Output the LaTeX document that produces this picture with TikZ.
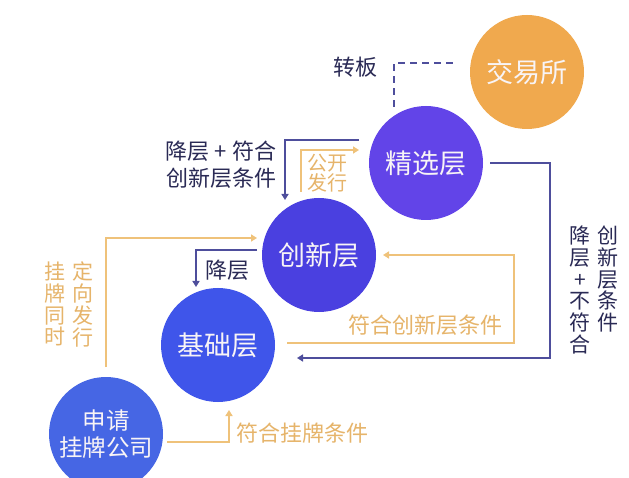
\documentclass[tikz,border=0pt]{standalone}
\usepackage{fontspec}
\newfontfamily\cjk{Noto Sans CJK SC}
\usetikzlibrary{arrows.meta,calc}
\definecolor{cJYS}{HTML}{F0A94E}
\definecolor{cJX}{HTML}{6244E8}
\definecolor{cCX}{HTML}{4A40E0}
\definecolor{cJC}{HTML}{3F55EA}
\definecolor{cSQ}{HTML}{4666E4}
\definecolor{cOrLine}{HTML}{EFC27A}
\definecolor{cOrText}{HTML}{E6B46A}
\definecolor{cNvLine}{HTML}{4E4E9C}
\definecolor{cNvText}{HTML}{2A2A55}
\definecolor{cWhite}{HTML}{F8F4F6}
\begin{document}
\begin{tikzpicture}[x=1pt,y=-1pt,
  layer/.style={circle,minimum size=114pt,inner sep=0pt,text=cWhite,
    font=\cjk\fontsize{27}{31}\selectfont,align=center},
  orline/.style={draw=cOrLine,line width=2pt,-{Triangle[length=6pt,width=7pt]}},
  nvline/.style={draw=cNvLine,line width=2pt,-{Triangle[length=6pt,width=7pt]}},
  ortext/.style={text=cOrText,font=\cjk\fontsize{22}{26}\selectfont,inner sep=0pt,align=center},
  nvtext/.style={text=cNvText,font=\cjk\fontsize{22}{27}\selectfont,inner sep=0pt,align=center},
  vcol/.style={font=\cjk\fontsize{21}{21.7}\selectfont,inner sep=0pt,align=center,anchor=north}
]
\useasboundingbox (0,0) rectangle (629,478);
\fill[white] (0,0) rectangle (629,478);
\clip (0,0) rectangle (629,478);

% circles
\node[layer,fill=cJYS] (jys) at (527,72) {交易所};
\node[layer,fill=cJX] (jx) at (426,163) {精选层};
\node[layer,fill=cCX] (cx) at (319,255) {创新层};
\node[layer,fill=cJC] (jc) at (218,345) {基础层};
\node[layer,fill=cSQ,font=\cjk\fontsize{23.5}{27}\selectfont] (sq) at (106,434) {申请\\挂牌公司};

% connector end points
\coordinate (d1) at (394,107); \coordinate (d2) at (454,63);
\coordinate (a1s) at (359,140); \coordinate (a1e) at (285,200);
\coordinate (a2s) at (301,192); \coordinate (a2e) at (359,150);
\coordinate (a3s) at (106,367); \coordinate (a3e) at (257,238);
\coordinate (a4s) at (257,250); \coordinate (a4e) at (196,287);
\coordinate (a5s) at (287,343); \coordinate (a5c) at (514,255); \coordinate (a5e) at (383,255);
\coordinate (a6s) at (490,163); \coordinate (a6c) at (550,358); \coordinate (a6e) at (297,358);
\coordinate (a7s) at (167,442); \coordinate (a7e) at (229,410);

% connectors
\draw[draw=cNvLine,line width=1.6pt,dash pattern=on 7pt off 5pt] (d1) |- (d2);
\draw[nvline] (a1s) -| (a1e);
\draw[orline] (a2s) |- (a2e);
\draw[orline] (a3s) |- (a3e);
\draw[nvline] (a4s) -| (a4e);
\draw[orline] (a5s) -| (a5c) -- (a5e);
\draw[nvline] (a6s) -| (a6c) -- (a6e);
\draw[orline] (a7s) -| (a7e);

% labels
\node[nvtext] (t1) at (355,67) {转板};
\node[nvtext] (t2) at (221,165) {降层 + 符合\\创新层条件};
\node[ortext,font=\cjk\fontsize{20}{20}\selectfont] (t3) at (327,173) {公开\\发行};
\node[nvtext] (t4) at (227,270) {降层};
\node[ortext] (t5) at (425,325) {符合创新层条件};
\node[ortext] (t6) at (302,433) {符合挂牌条件};
\node[vcol,text=cOrText] (t7) at (55,262) {挂\\牌\\同\\时};
\node[vcol,text=cOrText] (t8) at (83,262) {定\\向\\发\\行};
\node[vcol,text=cNvText] (t9) at (580,226) {降\\层\\+\\不\\符\\合};
\node[vcol,text=cNvText] (t10) at (608,226) {创\\新\\层\\条\\件};
\end{tikzpicture}
\end{document}
